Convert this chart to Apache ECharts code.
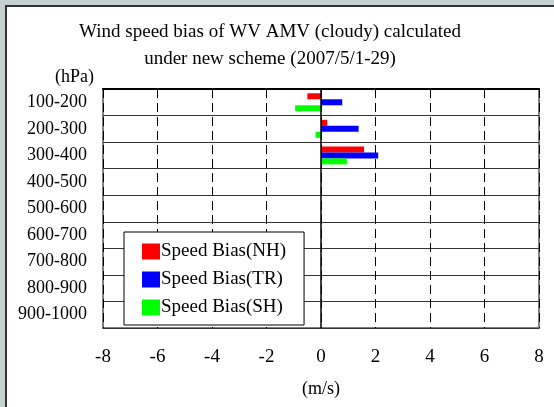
<!DOCTYPE html>
<html>
<head>
<meta charset="utf-8">
<script src="https://cdn.jsdelivr.net/npm/echarts@6/dist/echarts.min.js"></script>
<style>
  html, body { margin: 0; padding: 0; }
  body { width: 554px; height: 407px; background: #c3d2d1; position: relative; overflow: hidden; }
  .paper { position: absolute; left: 5px; top: 5px; right: 0; bottom: 0; background: #fff;
    border-top: 2px solid #333; border-left: 2px solid #333; }
  #chart { position: absolute; left: 0; top: 0; width: 554px; height: 407px; }
</style>
</head>
<body>
<div class="paper"></div>
<div id="chart"></div>
<script>
// pressure layers (hPa), top to bottom
const layers = ['100-200', '200-300', '300-400', '400-500', '500-600', '600-700', '700-800', '800-900', '900-1000']
// wind speed bias (m/s)
const biasNH = [-0.5, 0.23, 1.58, 0, 0, 0, 0, 0, 0]
const biasTR = [0.78, 1.38, 2.1, 0, 0, 0, 0, 0, 0]
const biasSH = [-0.95, -0.2, 0.95, 0, 0, 0, 0, 0, 0]

const font = 'Liberation Serif'
const chart = echarts.init(document.getElementById('chart'))

const barSeries = (name, data, color) => ({
  name: name,
  type: 'bar',
  data: data,
  barWidth: 6,
  barGap: '0%',
  itemStyle: { color: color },
  animation: false
})

const option = {
  textStyle: { fontFamily: font, color: '#000' },
  title: [
    {
      text: 'Wind speed bias of WV AMV (cloudy) calculated\nunder new scheme (2007/5/1-29)',
      left: 265,
      top: 14,
      textAlign: 'center',
      textStyle: { fontFamily: font, fontSize: 19, fontWeight: 'normal', color: '#000', lineHeight: 27 }
    },
    {
      text: '(hPa)',
      left: 50,
      top: 63,
      textStyle: { fontFamily: font, fontSize: 18, fontWeight: 'normal', color: '#000' }
    }
  ],
  legend: {
    orient: 'vertical',
    left: 124,
    top: 232,
    padding: [10, 18, 8, 18],
    itemWidth: 18,
    itemHeight: 16,
    itemGap: 9,
    icon: 'rect',
    backgroundColor: '#fff',
    borderColor: '#000',
    borderWidth: 1,
    textStyle: { fontFamily: font, fontSize: 19, color: '#000', padding: [0, 0, 0, -4] },
    data: ['Speed Bias(NH)', 'Speed Bias(TR)', 'Speed Bias(SH)']
  },
  grid: {
    left: 103,
    right: 15,
    top: 89,
    bottom: 79,
    show: true,
    borderColor: '#7f7f7f',
    borderWidth: 2
  },
  xAxis: [
    {
      type: 'value',
      min: -8,
      max: 8,
      interval: 2,
      name: '(m/s)',
      nameLocation: 'middle',
      nameGap: 52,
      nameTextStyle: { fontFamily: font, fontSize: 18, color: '#000' },
      axisLine: { show: false },
      axisTick: { show: false },
      axisLabel: { fontFamily: font, fontSize: 19, color: '#000', margin: 20 },
      splitLine: { show: true, lineStyle: { color: '#000', width: 1, type: [9, 5] } }
    },
    {
      type: 'value',
      position: 'top',
      min: -8,
      max: 8,
      interval: 2,
      axisLine: { show: true, onZero: false, lineStyle: { color: '#000', width: 2 } },
      axisTick: { show: true, inside: true, length: 6, lineStyle: { color: '#000' } },
      axisLabel: { show: false },
      splitLine: { show: false }
    }
  ],
  yAxis: {
    type: 'category',
    inverse: true,
    data: layers,
    axisLine: { show: false },
    axisTick: { show: false },
    axisLabel: { fontFamily: font, fontSize: 18, color: '#000', margin: 16 },
    splitLine: { show: true, lineStyle: { color: '#333', width: 1 } }
  },
  series: [
    Object.assign(barSeries('Speed Bias(NH)', biasNH, '#ff0000'), {
      markLine: {
        silent: true,
        symbol: 'none',
        animation: false,
        label: { show: false },
        lineStyle: { color: '#000', width: 1.5, type: 'solid' },
        data: [{ xAxis: 0 }]
      }
    }),
    barSeries('Speed Bias(TR)', biasTR, '#0000ff'),
    barSeries('Speed Bias(SH)', biasSH, '#00ff00')
  ]
}

chart.setOption(option)
</script>
</body>
</html>
